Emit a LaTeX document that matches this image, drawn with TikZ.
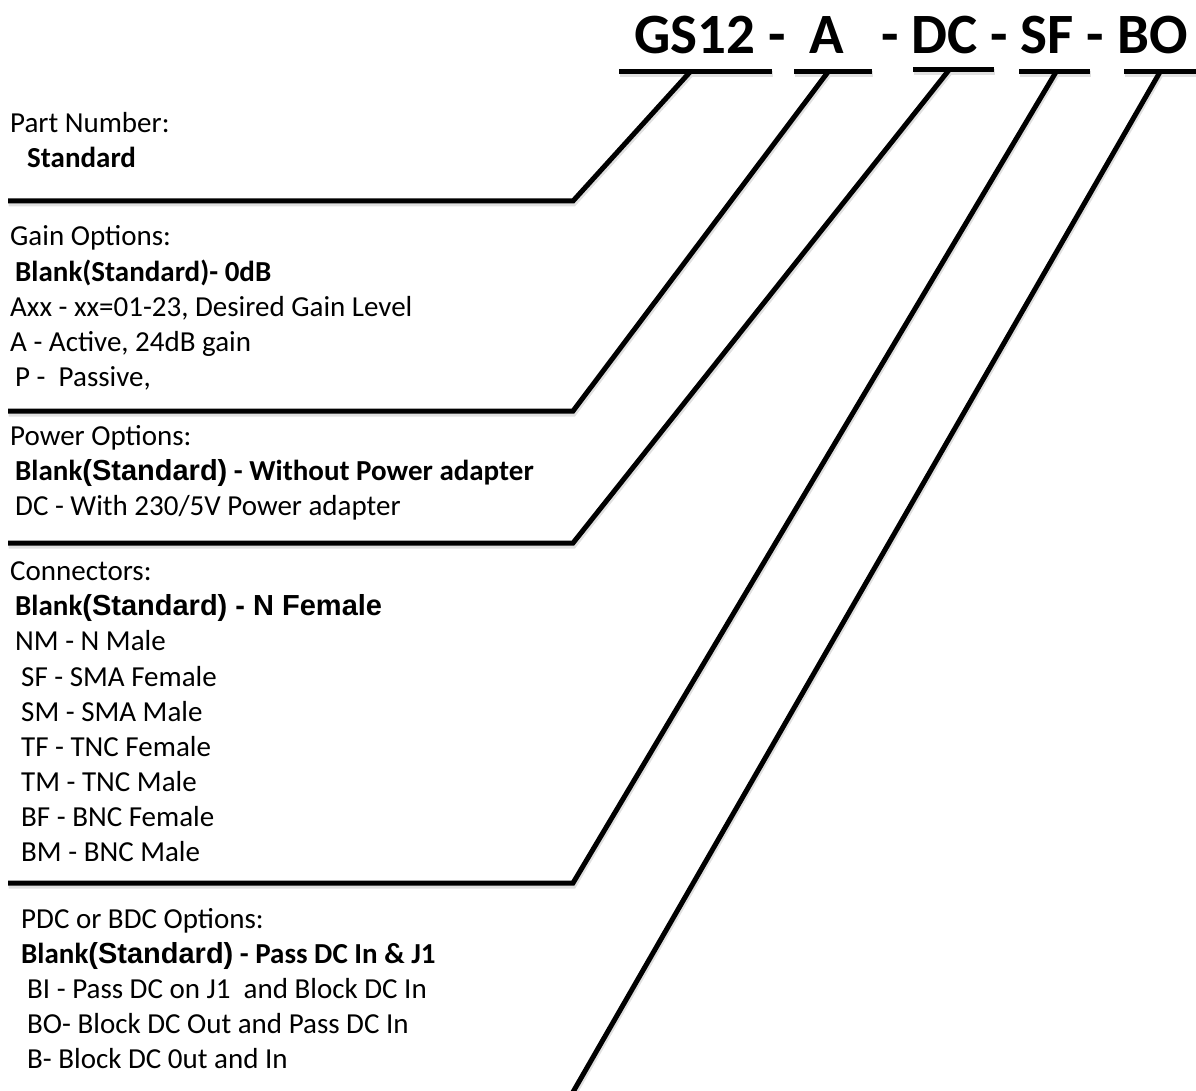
\documentclass[tikz,border=0pt]{standalone}
\usepackage{fontspec}
\setmainfont{Carlito}
\newfontfamily\arialb[BoldFont={Liberation Sans Bold}]{Liberation Sans}
\begin{document}
\begin{tikzpicture}[x=1pt,y=-1pt,
  txt/.style={anchor=base west,inner sep=0pt,font=\fontsize{29}{35}\selectfont},
  ttl/.style={anchor=base west,inner sep=0pt,font=\fontsize{57}{68}\selectfont\bfseries},
  leader/.style={line width=5pt,black,line join=miter},
  shade/.style={line width=6pt,black!12,line join=miter,transform canvas={yshift=-2.5pt,xshift=0.5pt}}]
\useasboundingbox (0,0) rectangle (1196,1091);
% title
\node[ttl] (t1) at (634,54) {GS12 -};
\node[ttl,anchor=base] (t2) at (827,54) {A};
\node[ttl,anchor=base east] (t3) at (1188,54) {- DC - SF - BO};
% coordinates
\coordinate (u1a) at (619,72); \coordinate (u1b) at (772,72); \coordinate (d1) at (690,72);
\coordinate (u2a) at (794,72); \coordinate (u2b) at (872,72); \coordinate (d2) at (828,72);
\coordinate (u3a) at (913,70); \coordinate (u3b) at (994,70); \coordinate (d3) at (949,70);
\coordinate (u4a) at (1019,72); \coordinate (u4b) at (1090,72); \coordinate (d4) at (1056,72);
\coordinate (u5a) at (1124,72); \coordinate (u5b) at (1200,72); \coordinate (d5) at (1160,72);
\coordinate (c1) at (573,201); \coordinate (h1) at (8,201);
\coordinate (c2) at (573,411); \coordinate (h2) at (8,411);
\coordinate (c3) at (573,543); \coordinate (h3) at (8,543);
\coordinate (c4) at (573,883); \coordinate (h4) at (8,883);
\coordinate (c5) at (573,1092);
% shadows
\foreach \a/\b in {u1a/u1b,u2a/u2b,u3a/u3b,u4a/u4b,u5a/u5b}
  \draw[shade] (\a) -- (\b);
\draw[shade] (d1) -- (c1) -- (h1);
\draw[shade] (d2) -- (c2) -- (h2);
\draw[shade] (d3) -- (c3) -- (h3);
\draw[shade] (d4) -- (c4) -- (h4);
\draw[shade] (d5) -- (c5);
% leaders
\foreach \a/\b in {u1a/u1b,u2a/u2b,u3a/u3b,u4a/u4b,u5a/u5b}
  \draw[leader] (\a) -- (\b);
\draw[leader] (d1) -- (c1) -- (h1);
\draw[leader] (d2) -- (c2) -- (h2);
\draw[leader] (d3) -- (c3) -- (h3);
\draw[leader] (d4) -- (c4) -- (h4);
\draw[leader] (d5) -- (c5);
% Part number
\node[txt] (pn) at (10,133) {Part Number:};
\node[txt] (pn1) at (27,168) {\bfseries Standard};
% Gain
\node[txt] (g0) at (10,246) {Gain Options:};
\node[txt] (g1) at (15,281) {\bfseries Blank(Standard)- 0dB};
\node[txt] (g2) at (10,316) {Axx - xx=01-23, Desired Gain Level};
\node[txt] (g3) at (10,351) {A - Active, 24dB gain};
\node[txt] (g4) at (15,386) {P -\ \ Passive,};
% Power
\node[txt] (p0) at (10,445) {Power Options:};
\node[txt] (p1) at (15,480) {\bfseries Blank{\arialb\bfseries(Standard)} - Without Power adapter};
\node[txt] (p2) at (15,515) {DC - With 230/5V Power adapter};
% Connectors
\node[txt] (k0) at (10,580) {Connectors:};
\node[txt] (k1) at (15,615) {\bfseries Blank{\arialb\bfseries(Standard) - N Female}};
\node[txt] (k2) at (15,650) {NM - N Male};
\node[txt] (k3) at (21,686) {SF - SMA Female};
\node[txt] (k4) at (21,721) {SM - SMA Male};
\node[txt] (k5) at (21,756) {TF - TNC Female};
\node[txt] (k6) at (21,791) {TM - TNC Male};
\node[txt] (k7) at (21,826) {BF - BNC Female};
\node[txt] (k8) at (21,861) {BM - BNC Male};
% PDC
\node[txt] (b0) at (21,928) {PDC or BDC Options:};
\node[txt] (b1) at (21,963) {\bfseries Blank{\arialb\bfseries(Standard)} - Pass DC In \& J1};
\node[txt] (b2) at (27,998) {BI - Pass DC on J1\ \ and Block DC In};
\node[txt] (b3) at (27,1033) {BO- Block DC Out and Pass DC In};
\node[txt] (b4) at (27,1068) {B- Block DC 0ut and In};
\end{tikzpicture}
\end{document}
